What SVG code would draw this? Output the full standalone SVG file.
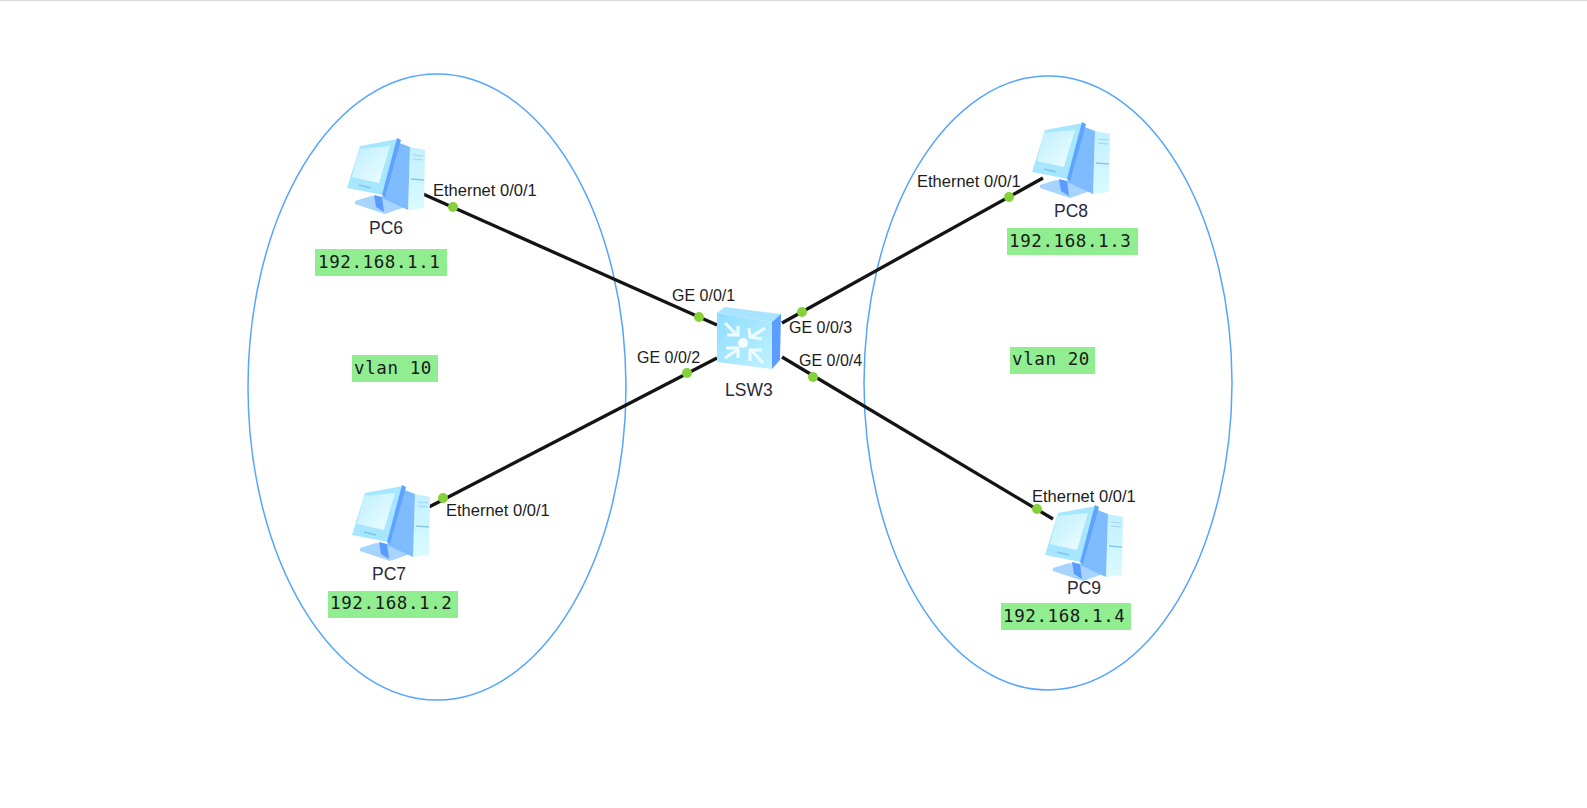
<svg xmlns="http://www.w3.org/2000/svg" width="1587" height="808" viewBox="0 0 1587 808">
<style>
.area{fill:none;stroke:#55a5ff;stroke-width:1.5}
.link{stroke:#141414;stroke-width:3.3;fill:none}
.dot{fill:#86d03a}
.box{fill:#90ee90}
.ip{font-family:"DejaVu Sans Mono",monospace;font-size:17.5px;letter-spacing:.6px;fill:#1a1a1a}
.port{font-family:"Liberation Sans",Arial,sans-serif;font-size:16px;fill:#1c1c1c}
.eth{font-size:16.5px}
.name{font-family:"Liberation Sans",Arial,sans-serif;font-size:17.5px;fill:#2a2a3a}
</style>
<defs>
<linearGradient id="scr" x1="0" y1="0" x2="1" y2="1"><stop offset="0" stop-color="#bdefff"/><stop offset="1" stop-color="#effdff"/></linearGradient>
<linearGradient id="tower" x1="0" y1="0" x2="0" y2="1"><stop offset="0" stop-color="#c2f0ff"/><stop offset="1" stop-color="#d9fbff"/></linearGradient>
<linearGradient id="sw" x1="0" y1="0" x2="1" y2="1"><stop offset="0" stop-color="#8fdcff"/><stop offset="1" stop-color="#bff2ff"/></linearGradient>
<g id="pc">
<polygon points="8,63 24,58 44,60 58,69 38,76 8,66" fill="#a6d4ff"/>
<polygon points="27,57 35,59 37,74 29,69" fill="#5a9bff"/>
<polygon points="63,9 78,12 77,70 61,72" fill="url(#tower)"/>
<polygon points="50,4 63,9 61,72 35,60" fill="#7fbcff"/>
<polygon points="13,8 51,1 36,57 0,50" fill="#a6e6ff"/>
<polygon points="50,0 54,2 38,59 35,57" fill="#5ea3ff"/>
<polygon points="12,11 43,8 32,45 5,39" fill="url(#scr)"/>
<path d="M66 17L76 18M66 21L76 22" stroke="#9fd6f2" stroke-width="1"/>
<path d="M64 41L77 42" stroke="#86c8ec" stroke-width="1.5"/>
<path d="M12 47L24 50" stroke="#7fc6ee" stroke-width="1.5"/>
</g>
</defs>
<rect x="0" y="0" width="1587" height="1" fill="#d9d9d9"/>
<g id="areas">
<ellipse class="area" cx="437" cy="387" rx="189" ry="313"/>
<ellipse class="area" cx="1048" cy="383" rx="184" ry="307"/>
</g>
<g id="connectors">
<line class="link" x1="423" y1="194" x2="717" y2="325"/>
<line class="link" x1="429" y1="507" x2="717" y2="358"/>
<line class="link" x1="1043" y1="178" x2="782" y2="323"/>
<line class="link" x1="1053" y1="519" x2="782" y2="357"/>
<circle class="dot" cx="453" cy="207" r="5"/>
<circle class="dot" cx="699" cy="317" r="5"/>
<circle class="dot" cx="443" cy="498" r="5"/>
<circle class="dot" cx="687" cy="373" r="5"/>
<circle class="dot" cx="1009" cy="197" r="5"/>
<circle class="dot" cx="802" cy="312" r="5"/>
<circle class="dot" cx="1037" cy="509" r="5"/>
<circle class="dot" cx="813" cy="377" r="5"/>
</g>
<g id="PC6"><use href="#pc" x="347" y="138"/><text class="name" x="369" y="234">PC6</text><rect class="box" x="315" y="249" width="132" height="27"/><text class="ip" x="318" y="268">192.168.1.1</text><text class="port eth" x="433" y="196">Ethernet 0/0/1</text></g>
<g id="PC7"><use href="#pc" x="352" y="485"/><text class="name" x="372" y="580">PC7</text><rect class="box" x="328" y="591" width="130" height="27"/><text class="ip" x="330" y="609">192.168.1.2</text><text class="port eth" x="446" y="516">Ethernet 0/0/1</text></g>
<g id="PC8"><use href="#pc" x="1032" y="122"/><text class="name" x="1054" y="217">PC8</text><rect class="box" x="1007" y="228" width="131" height="27"/><text class="ip" x="1009" y="247">192.168.1.3</text><text class="port eth" x="917" y="187">Ethernet 0/0/1</text></g>
<g id="PC9"><use href="#pc" x="1045" y="505"/><text class="name" x="1067" y="594">PC9</text><rect class="box" x="1001" y="603" width="130" height="27"/><text class="ip" x="1003" y="622">192.168.1.4</text><text class="port eth" x="1032" y="502">Ethernet 0/0/1</text></g>
<g id="LSW3">
<polygon points="717,313 725,307 781,314 772,322" fill="#a8e4ff"/>
<polygon points="772,322 781,314 780,360 772,369" fill="#5d9dff"/>
<polygon points="717,313 772,322 772,369 717,362" fill="url(#sw)"/>
<circle cx="743" cy="343" r="5" fill="#f4fdff"/>
<g fill="none" stroke="#eefbff" stroke-width="3">
<path d="M725 323L737 335M727 335H738V326"/>
<path d="M765 328L751 337M749 328L750 337L762 339"/>
<path d="M725 358L737 350M726 348H738V358"/>
<path d="M763 363L751 350M750 361V350H762"/>
</g>
<text class="name" x="725" y="396">LSW3</text>
<text class="port" x="672" y="301">GE 0/0/1</text>
<text class="port" x="637" y="363">GE 0/0/2</text>
<text class="port" x="789" y="333">GE 0/0/3</text>
<text class="port" x="799" y="366">GE 0/0/4</text>
</g>
<g id="vlan10"><rect class="box" x="352" y="355" width="86" height="27"/><text class="ip" x="354" y="374">vlan 10</text></g>
<g id="vlan20"><rect class="box" x="1010" y="347" width="85" height="27"/><text class="ip" x="1012" y="365">vlan 20</text></g>
</svg>
